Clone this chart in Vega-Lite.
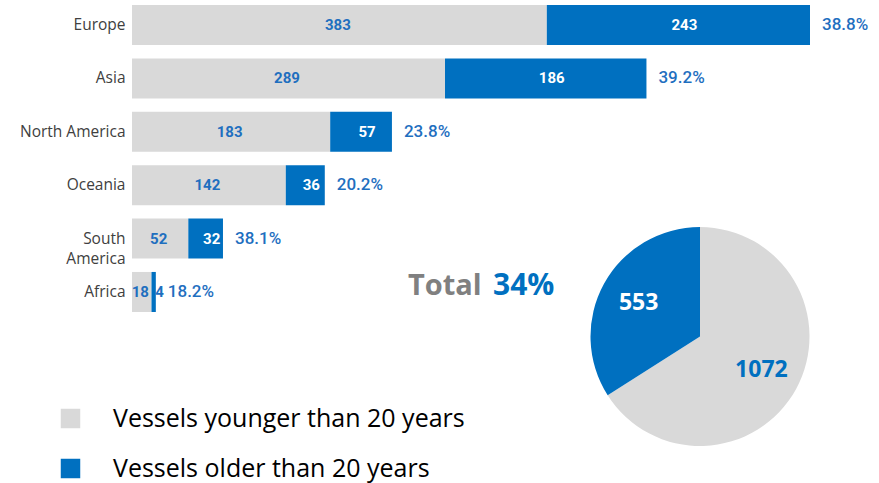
{
  "$schema": "https://vega.github.io/schema/vega-lite/v6.json",
  "autosize": {"type": "none"},
  "padding": {"left": 132, "top": 5, "right": 69, "bottom": 171},
  "width": 678,
  "height": 307,
  "background": "white",
  "datasets": {
    "regions": [
      {"region": "Europe", "group": "Vessels younger than 20 years", "value": 383},
      {"region": "Europe", "group": "Vessels older than 20 years", "value": 243, "share": "38.8%"},
      {"region": "Asia", "group": "Vessels younger than 20 years", "value": 289},
      {"region": "Asia", "group": "Vessels older than 20 years", "value": 186, "share": "39.2%"},
      {"region": "North America", "group": "Vessels younger than 20 years", "value": 183},
      {"region": "North America", "group": "Vessels older than 20 years", "value": 57, "share": "23.8%"},
      {"region": "Oceania", "group": "Vessels younger than 20 years", "value": 142},
      {"region": "Oceania", "group": "Vessels older than 20 years", "value": 36, "share": "20.2%"},
      {"region": "South America", "group": "Vessels younger than 20 years", "value": 52},
      {"region": "South America", "group": "Vessels older than 20 years", "value": 32, "share": "38.1%"},
      {"region": "Africa", "group": "Vessels younger than 20 years", "value": 18},
      {"region": "Africa", "group": "Vessels older than 20 years", "value": 4, "share": "18.2%"}
    ],
    "total": [
      {"group": "Vessels younger than 20 years", "value": 1072},
      {"group": "Vessels older than 20 years", "value": 553}
    ],
    "headline": [
      {"label": "Total", "share": "34%"}
    ]
  },
  "layer": [
    {
      "data": {"name": "regions"},
      "transform": [
        {"stack": "value", "groupby": ["region"], "sort": [{"field": "group", "order": "descending"}], "as": ["v0", "v1"]}
      ],
      "mark": {"type": "bar"},
      "encoding": {
        "y": {"field": "region", "type": "nominal", "sort": null,
              "scale": {"paddingInner": 0.25, "paddingOuter": 0},
              "axis": {"title": null, "domain": false, "ticks": false, "labelPadding": 7,
                       "labelFont": "Open Sans", "labelFontSize": 15.5, "labelColor": "#404040",
                       "labelLineHeight": 20,
                       "labelExpr": "datum.value == 'South America' ? ['South', 'America'] : datum.value"}},
        "x": {"field": "v0", "type": "quantitative", "scale": {"nice": false, "zero": true}, "axis": null},
        "x2": {"field": "v1"},
        "color": {"field": "group", "type": "nominal",
                  "scale": {"domain": ["Vessels younger than 20 years", "Vessels older than 20 years"], "range": ["#d9d9d9", "#0070c0"]},
                  "legend": {"title": null, "orient": "none", "legendX": -74, "legendY": 401,
                             "symbolType": "square", "symbolSize": 380, "symbolStrokeWidth": 0,
                             "labelFont": "Open Sans", "labelFontSize": 25, "labelColor": "#000000",
                             "labelOffset": 30, "rowPadding": 24, "labelLimit": 500}}
      }
    },
    {
      "data": {"name": "regions"},
      "transform": [
        {"stack": "value", "groupby": ["region"], "sort": [{"field": "group", "order": "descending"}], "as": ["v0", "v1"]},
        {"calculate": "(datum.v0 + datum.v1) / 2", "as": "mid"},
        {"filter": "datum.group == 'Vessels younger than 20 years'"}
      ],
      "mark": {"type": "text", "font": "Roboto", "fontWeight": "bold", "fontSize": 15, "align": "center", "baseline": "middle", "dx": -1.5, "color": "#1f6fbf"},
      "encoding": {
        "y": {"field": "region", "type": "nominal", "sort": null},
        "x": {"field": "mid", "type": "quantitative"},
        "text": {"field": "value", "type": "quantitative"}
      }
    },
    {
      "data": {"name": "regions"},
      "transform": [
        {"stack": "value", "groupby": ["region"], "sort": [{"field": "group", "order": "descending"}], "as": ["v0", "v1"]},
        {"calculate": "(datum.v0 + datum.v1) / 2", "as": "mid"},
        {"filter": "datum.group == 'Vessels older than 20 years'"}
      ],
      "mark": {"type": "text", "font": "Roboto", "fontWeight": "bold", "fontSize": 15, "align": "center", "baseline": "middle", "dx": 6},
      "encoding": {
        "y": {"field": "region", "type": "nominal", "sort": null},
        "x": {"field": "mid", "type": "quantitative"},
        "text": {"field": "value", "type": "quantitative"},
        "color": {"condition": {"test": "datum.value < 10", "value": "#1f6fbf"}, "value": "#ffffff"}
      }
    },
    {
      "data": {"name": "regions"},
      "transform": [
        {"joinaggregate": [{"op": "sum", "field": "value", "as": "total"}], "groupby": ["region"]},
        {"filter": "datum.share != null"}
      ],
      "mark": {"type": "text", "font": "Roboto", "fontWeight": 500, "fontSize": 17, "align": "left", "baseline": "middle", "dx": 12, "color": "#1f6fbf"},
      "encoding": {
        "y": {"field": "region", "type": "nominal", "sort": null},
        "x": {"field": "total", "type": "quantitative"},
        "text": {"field": "share", "type": "nominal"}
      }
    },
    {
      "data": {"name": "total"},
      "mark": {"type": "arc", "x": 568, "y": 331.5, "outerRadius": 109.5},
      "encoding": {
        "theta": {"field": "value", "type": "quantitative", "stack": true},
        "order": {"field": "group", "sort": "descending"},
        "color": {"field": "group", "type": "nominal"}
      }
    },
    {
      "data": {"name": "total"},
      "mark": {"type": "text", "x": 568, "y": 331.5, "radius": 70, "font": "Open Sans", "fontWeight": "bold", "fontSize": 23, "align": "center", "baseline": "middle"},
      "encoding": {
        "theta": {"field": "value", "type": "quantitative", "stack": true},
        "order": {"field": "group", "sort": "descending"},
        "text": {"field": "value", "type": "quantitative"},
        "color": {"condition": {"test": "datum.group == 'Vessels older than 20 years'", "value": "#ffffff"}, "value": "#0070c0"}
      }
    },
    {
      "data": {"name": "headline"},
      "mark": {"type": "text", "x": 276, "y": 290, "font": "Open Sans", "fontWeight": "bold", "fontSize": 29, "align": "left", "baseline": "alphabetic", "color": "#808080"},
      "encoding": {"text": {"field": "label", "type": "nominal"}}
    },
    {
      "data": {"name": "headline"},
      "mark": {"type": "text", "x": 361, "y": 290, "font": "Open Sans", "fontWeight": "bold", "fontSize": 30, "align": "left", "baseline": "alphabetic", "color": "#0070c0"},
      "encoding": {"text": {"field": "share", "type": "nominal"}}
    }
  ],
  "config": {"view": {"stroke": null}}
}
